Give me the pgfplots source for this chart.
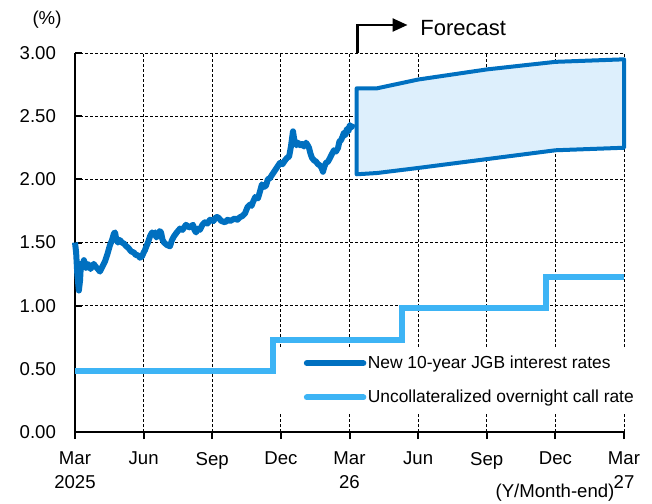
\documentclass[border=0pt]{standalone}
\usepackage{fontspec}
\setmainfont{Liberation Sans}
\usepackage{pgfplots}
\pgfplotsset{compat=1.18}
\usetikzlibrary{arrows.meta}
\definecolor{jgb}{HTML}{0070C0}
\definecolor{callc}{HTML}{3DB4F5}
\definecolor{bandc}{HTML}{DDEFFC}
\begin{document}
\begin{tikzpicture}[font=\fontsize{9.3}{12}\selectfont]
\begin{axis}[
  scale only axis, width=274.5pt, height=189.5pt,
  xmin=0, xmax=24, ymin=0, ymax=3,
  axis x line=bottom, axis y line=left,
  axis line style={line width=1pt,-},
  clip=false,
  xtick={0,3,...,24},
  xticklabels={Mar\\2025,Jun,Sep,Dec,Mar\\26,Jun,Sep,Dec,Mar\\27},
  ytick={0,0.5,1,1.5,2,2.5,3},
  yticklabels={0.00,0.50,1.00,1.50,2.00,2.50,3.00},
  tick align=inside,
  major tick length=3.5pt,
  tick style={line width=1pt, black},
  xtick style={yshift=-3.5pt},
  tick label style={font=\fontsize{9.3}{12}\selectfont},
  xticklabel style={align=center, yshift=-6.5pt},
  yticklabel style={xshift=-6pt},
  grid=major,
  major grid style={line width=0.5pt, black, dash pattern=on 1.5pt off 1pt},
  legend style={at={(0.366,0.2243)}, anchor=north west, draw=none, fill=white,
    inner xsep=0pt, inner ysep=4pt, row sep=9.3pt,
    font=\fontsize{8.7}{11}\selectfont,
    nodes={inner xsep=0.75pt, inner ysep=0pt}},
  legend cell align=left,
  legend image code/.code={\path (0pt,0pt); \draw[#1,line cap=round] (13.75pt,0pt) -- (42pt,0pt);},
]
% forecast range
\addplot[draw=jgb, fill=bandc, line width=2pt, line join=round, forget plot] coordinates {
  (12.31,2.72) (13.19,2.72) (15,2.79) (18,2.87) (21,2.93) (24,2.95)
  (24,2.25) (21,2.23) (18,2.16) (15,2.09) (13.2,2.05) (12.31,2.04)
} -- cycle;
% new 10-year JGB yield
\addplot[jgb, line width=3pt, line join=round] coordinates {
  (0.00,1.50) (0.05,1.42) (0.10,1.25) (0.17,1.12) (0.22,1.20) (0.26,1.33)
  (0.32,1.31) (0.39,1.36) (0.44,1.33) (0.48,1.30) (0.55,1.33) (0.61,1.32)
  (0.68,1.29) (0.74,1.31) (0.82,1.33) (0.90,1.31) (1.00,1.29) (1.09,1.27)
  (1.20,1.31) (1.31,1.35) (1.42,1.41) (1.53,1.48) (1.62,1.52) (1.70,1.57)
  (1.75,1.58) (1.81,1.52) (1.88,1.50) (1.96,1.52) (2.05,1.50) (2.15,1.49)
  (2.24,1.47) (2.32,1.46) (2.45,1.43) (2.58,1.42) (2.66,1.40) (2.75,1.40)
  (2.84,1.38) (2.93,1.39) (3.00,1.42) (3.06,1.44) (3.12,1.47) (3.19,1.50)
  (3.28,1.55) (3.37,1.58) (3.44,1.56) (3.50,1.58) (3.56,1.54) (3.63,1.56)
  (3.70,1.59) (3.76,1.58) (3.83,1.52) (3.89,1.50) (4.02,1.48) (4.15,1.47)
  (4.24,1.52) (4.33,1.55) (4.45,1.58) (4.59,1.61) (4.70,1.60) (4.85,1.64)
  (5.00,1.62) (5.16,1.64) (5.22,1.60) (5.29,1.58) (5.38,1.61) (5.46,1.60)
  (5.57,1.64) (5.68,1.66) (5.79,1.65) (5.90,1.68) (6.05,1.67) (6.16,1.70)
  (6.25,1.70) (6.40,1.67) (6.56,1.66) (6.67,1.68) (6.78,1.67) (6.88,1.68)
  (6.99,1.69) (7.10,1.68) (7.21,1.70) (7.32,1.71) (7.43,1.73) (7.54,1.78)
  (7.65,1.80) (7.72,1.79) (7.78,1.82) (7.88,1.86) (8.00,1.85) (8.08,1.90)
  (8.17,1.96) (8.26,1.94) (8.35,1.95) (8.43,2.00) (8.52,2.01) (8.63,2.04)
  (8.74,2.07) (8.85,2.10) (8.96,2.13) (9.07,2.12) (9.18,2.15) (9.27,2.17)
  (9.36,2.18) (9.44,2.26) (9.53,2.38) (9.58,2.32) (9.62,2.29) (9.68,2.27)
  (9.75,2.29) (9.84,2.27) (9.92,2.28) (10.01,2.26) (10.10,2.29) (10.17,2.27)
  (10.23,2.25) (10.30,2.20) (10.36,2.17) (10.45,2.15) (10.54,2.14) (10.62,2.12)
  (10.71,2.11) (10.78,2.09) (10.84,2.06) (10.90,2.10) (10.97,2.13) (11.06,2.14)
  (11.15,2.17) (11.23,2.20) (11.32,2.23) (11.41,2.22) (11.50,2.25) (11.56,2.30)
  (11.63,2.31) (11.70,2.34) (11.76,2.37) (11.82,2.35) (11.89,2.40) (11.95,2.38)
  (12.02,2.43) (12.08,2.41) (12.15,2.44)
};
\addlegendentry{New 10-year JGB interest rates}
% overnight call rate
\addplot[callc, line width=3pt, const plot] coordinates {
  (0,0.48) (8.66,0.73) (14.3,0.98) (20.6,1.23) (24,1.23)
};
\addlegendentry{Uncollateralized overnight call rate}
\draw[line width=1.2pt, -{Triangle[length=7.5pt,width=6.5pt]}]
  (axis cs:12.35,3) -- ++(0pt,14pt) -- ++(25pt,0pt);
\node[anchor=west, inner sep=0pt, yshift=12.5pt, font=\fontsize{11}{13}\selectfont]
  at (axis cs:15.08,3) {Forecast};
\node[inner sep=0pt, xshift=-14pt, yshift=16.5pt] at (rel axis cs:0,1) {(\%)};
\node[inner sep=0pt, xshift=-34.5pt, yshift=-30.5pt] at (rel axis cs:1,0) {(Y/Month-end)};
\end{axis}
\pgfresetboundingbox
\path (-37.5pt,-35.5pt) rectangle (288.5pt,216pt);
\end{tikzpicture}
\end{document}
